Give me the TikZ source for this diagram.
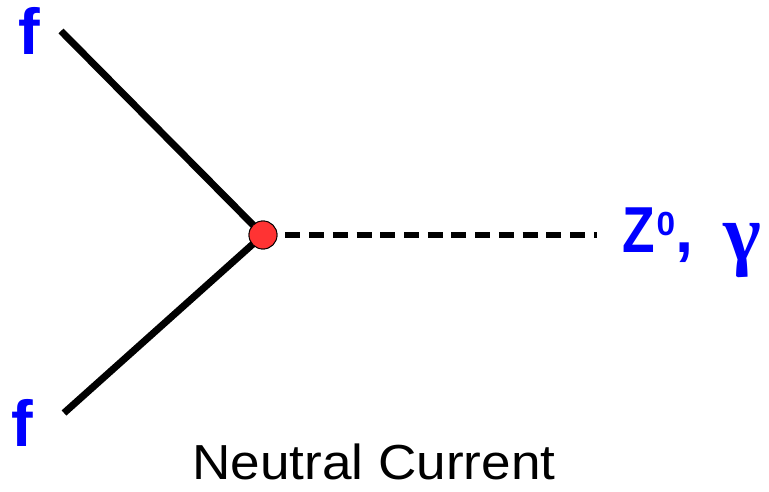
\documentclass[tikz,border=0pt]{standalone}
\usepackage{fontspec}
\setmainfont{Liberation Sans}
\newfontfamily\greekfont{Liberation Serif}
\begin{document}
\begin{tikzpicture}[x=0.02cm,y=-0.02cm,
    ferm/.style={line width=4pt},
    boson/.style={line width=3pt, dash pattern=on 8.5pt off 5pt},
    vertex/.style={circle, draw, fill=red!80!white, minimum size=28*0.02cm, inner sep=0pt, line width=0.5pt},
    lbl/.style={text=blue, inner sep=0pt, font=\fontsize{37}{37}\selectfont\bfseries}]
  \useasboundingbox (0,0) rectangle (769,492);
  \coordinate (fa) at (61,31);
  \coordinate (fb) at (64,413);
  \coordinate (zend) at (597,235);
  \node[vertex] (vtx) at (263,235) {};
  \draw [ferm] (fa) -- (vtx.center);
  \draw [ferm] (fb) -- (vtx.center);
  \draw [boson] (vtx.east) ++(8*0.02cm,0) -- (zend);
  \node [vertex] at (vtx) {};
  \node [lbl, anchor=base west] (fup) at (18,55) {f};
  \node [lbl, anchor=base west] (fdn) at (11,447) {f};
  \node [lbl, anchor=base west] (zlbl) at (622,253)
    {\scalebox{0.82}[1]{Z}\hspace{1pt}{\fontsize{19}{19}\selectfont\raisebox{10pt}{0}},\hspace{17pt}\raisebox{-4pt}{\greekfont\fontsize{46}{46}\selectfont γ}};
  \node [anchor=base, inner sep=0pt, font=\fontsize{28}{28}\selectfont, xscale=1.08] (title) at (374,480) {Neutral Current};
\end{tikzpicture}
\end{document}
